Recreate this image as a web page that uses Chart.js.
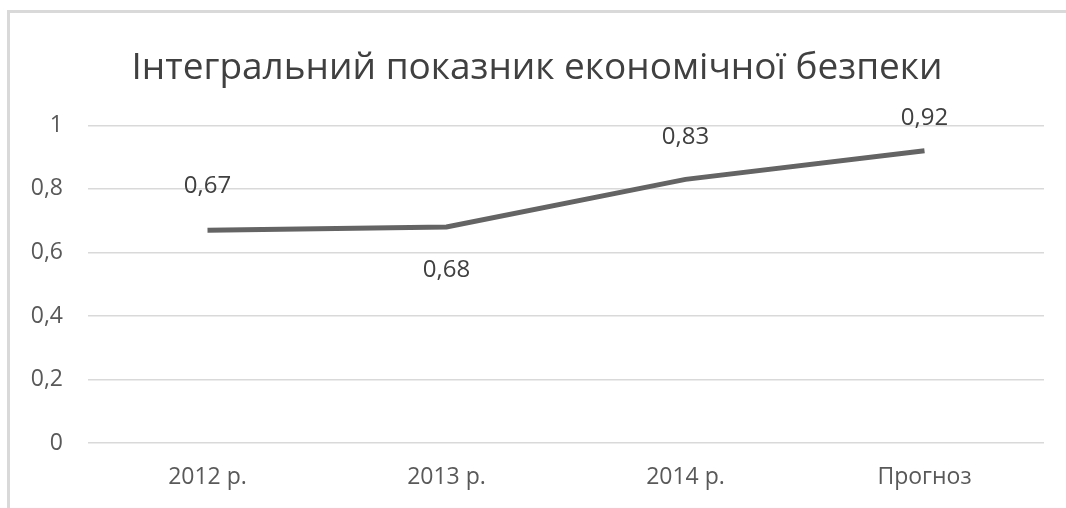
<!DOCTYPE html>
<html>
<head>
<meta charset="utf-8">
<script src="https://cdn.jsdelivr.net/npm/chart.js@4/dist/chart.umd.min.js"></script>
<style>
  body { margin: 0; background: #fff; }
  #frame {
    position: absolute; left: 7px; top: 10px; width: 1200px; height: 700px;
    border-top: 3px solid #d9d9d9; border-left: 3px solid #d9d9d9;
  }
  #wrap { position: absolute; left: 0; top: 0; width: 1066px; height: 508px; }
</style>
</head>
<body>
<div id="frame"></div>
<div id="wrap"><canvas id="lineChart" width="1066" height="508"></canvas></div>
<script>
const categories = ["2012 р.", "2013 р.", "2014 р.", "Прогноз"];
const indexValues = [0.67, 0.68, 0.83, 0.92];
const yTicks = [0, 0.2, 0.4, 0.6, 0.8, 1];

// label offset in px from the point (negative = above)
const labelShift = [-44, 43, -42, -33];

const fmt = v => String(v).replace('.', ',');

const pointLabels = {
    id: 'pointLabels',
    afterDatasetsDraw(chart) {
        const ctx = chart.ctx;
        const meta = chart.getDatasetMeta(0);
        ctx.save();
        ctx.font = '24px "Open Sans"';
        ctx.fillStyle = '#404040';
        ctx.textAlign = 'center';
        ctx.textBaseline = 'middle';
        meta.data.forEach((pt, i) => {
            ctx.fillText(fmt(indexValues[i]), pt.x, pt.y + labelShift[i]);
        });
        ctx.restore();
    }
};

new Chart(document.getElementById('lineChart'), {
    type: 'line',
    data: {
        labels: categories,
        datasets: [{
            data: indexValues,
            borderColor: '#646464',
            borderWidth: 5,
            pointRadius: 0,
            tension: 0,
        }]
    },
    options: {
        responsive: false,
        animation: false,
        layout: { padding: { left: 30, right: 22, top: 0, bottom: 0 } },
        plugins: {
            legend: { display: false },
            tooltip: { enabled: false },
            title: {
                display: true,
                text: 'Інтегральний показник економічної безпеки',
                color: '#404040',
                font: { family: '"Open Sans"', size: 37, weight: 'normal', lineHeight: 1.2 },
                padding: { top: 46, bottom: 35 }
            }
        },
        scales: {
            x: {
                offset: true,
                grid: { display: false, drawTicks: false },
                border: { display: false },
                ticks: { color: '#595959', font: { family: '"Open Sans"', size: 23 }, padding: 21 },
                afterFit: s => { s.height = 65; }
            },
            y: {
                min: 0, max: 1,
                afterBuildTicks: s => { s.ticks = yTicks.map(v => ({ value: v })); },
                grid: { color: '#d9d9d9', lineWidth: 1.5, drawTicks: false },
                border: { display: false },
                ticks: {
                    color: '#595959',
                    font: { family: '"Open Sans"', size: 23 },
                    padding: 25,
                    callback: v => fmt(v)
                },
                afterFit: s => { s.width = 58; }
            }
        }
    },
    plugins: [pointLabels]
});
</script>
</body>
</html>
